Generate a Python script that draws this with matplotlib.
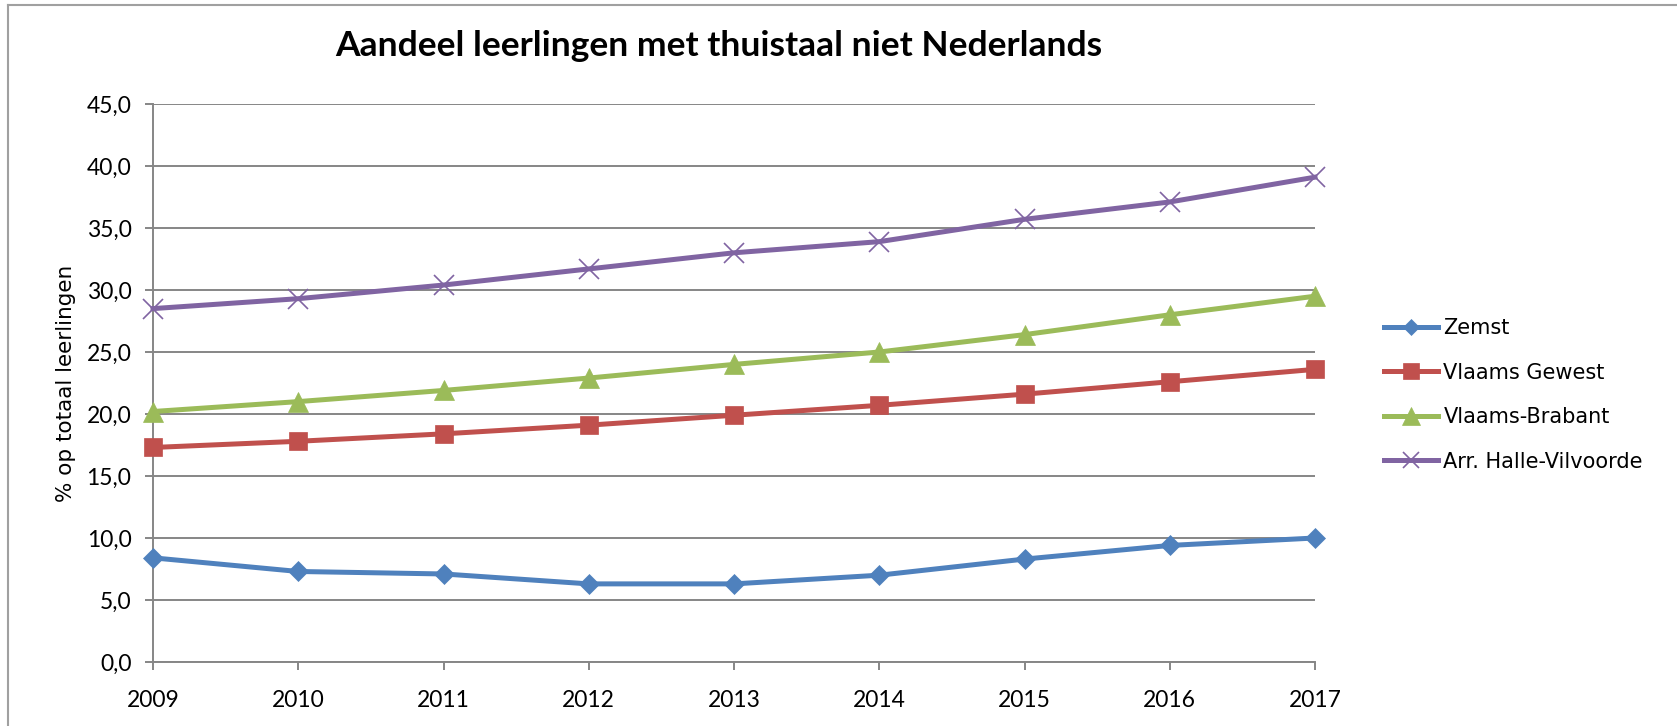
import matplotlib.pyplot as plt
from matplotlib.lines import Line2D
from matplotlib.ticker import FuncFormatter

plt.rcParams['font.family'] = ['Lato', 'DejaVu Sans']

# data
years = [2009, 2010, 2011, 2012, 2013, 2014, 2015, 2016, 2017]
zemst = [8.4, 7.3, 7.1, 6.3, 6.3, 7.0, 8.3, 9.4, 10.0]
vlaams_gewest = [17.3, 17.8, 18.4, 19.1, 19.9, 20.7, 21.6, 22.6, 23.6]
vlaams_brabant = [20.2, 21.0, 21.9, 22.9, 24.0, 25.0, 26.4, 28.0, 29.5]
halle_vilvoorde = [28.5, 29.3, 30.4, 31.7, 33.0, 33.9, 35.7, 37.1, 39.1]

series = [
    ("Zemst", zemst, "#4F81BD", "D", 10),
    ("Vlaams Gewest", vlaams_gewest, "#C0504D", "s", 13),
    ("Vlaams-Brabant", vlaams_brabant, "#9BBB59", "^", 15),
    ("Arr. Halle-Vilvoorde", halle_vilvoorde, "#8064A2", "x", 14),
]

W, H = 1677, 726
fig = plt.figure(figsize=(W / 100, H / 100), dpi=100)
ax = fig.add_axes([153 / W, 1 - 662 / H, (1315 - 153) / W, (662 - 104) / H])

grid_c = "#868686"
for name, vals, col, mk, ms in series:
    ax.plot(years, vals, color=col, linewidth=3.6, marker=mk, markersize=ms,
            markerfacecolor=col, markeredgecolor=col,
            markeredgewidth=1.2 if mk == "x" else 0.5,
            label=name, clip_on=False, zorder=3)

ax.set_xlim(years[0], years[-1])
ax.set_ylim(0, 45)
ax.set_yticks(range(0, 46, 5))
ax.set_xticks(years)
ax.yaxis.set_major_formatter(FuncFormatter(lambda v, p: f"{v:.1f}".replace(".", ",")))
ax.grid(axis="y", color=grid_c, linewidth=1.4)
ax.set_axisbelow(True)
for s in ["top", "right"]:
    ax.spines[s].set_visible(False)
for s in ["left", "bottom"]:
    ax.spines[s].set_color(grid_c)
    ax.spines[s].set_linewidth(1.4)
ax.tick_params(axis="both", direction="out", length=5.5, width=1.4, color=grid_c,
               labelsize=16.5, labelcolor="black")
ax.tick_params(axis="x", pad=15)
ax.tick_params(axis="y", pad=10)

ax.set_ylabel("% op totaal leerlingen", fontsize=15.5, family="DejaVu Sans")
ax.yaxis.set_label_coords(-0.066, 0.5)

fig.text(719 / W, 1 - 46 / H, "Aandeel leerlingen met thuistaal niet Nederlands",
         ha="center", va="center", fontsize=25.5, fontweight="bold")

handles = [Line2D([], [], color=c, linewidth=3.6, marker=m, markersize=ms * 0.85,
                  markerfacecolor=c, markeredgecolor=c,
                  markeredgewidth=1.2 if m == "x" else 0.5)
           for _, _, c, m, ms in series]
fig.legend(handles, [s[0] for s in series], loc="upper left",
           bbox_to_anchor=(1384 / W, 1 - 318 / H), frameon=False,
           prop={"family": "DejaVu Sans", "size": 15},
           borderpad=0, borderaxespad=0,
           handlelength=2.6, handletextpad=0.25, labelspacing=1.18)

# outer chart frame (top and left visible)
fig.add_artist(Line2D([8 / W, 8 / W], [0, 1 - 5 / H], transform=fig.transFigure,
                      color="#A0A0A0", linewidth=1.5))
fig.add_artist(Line2D([8 / W, 1], [1 - 5 / H, 1 - 5 / H], transform=fig.transFigure,
                      color="#A0A0A0", linewidth=1.5))

fig.savefig("out.png", dpi=100)
